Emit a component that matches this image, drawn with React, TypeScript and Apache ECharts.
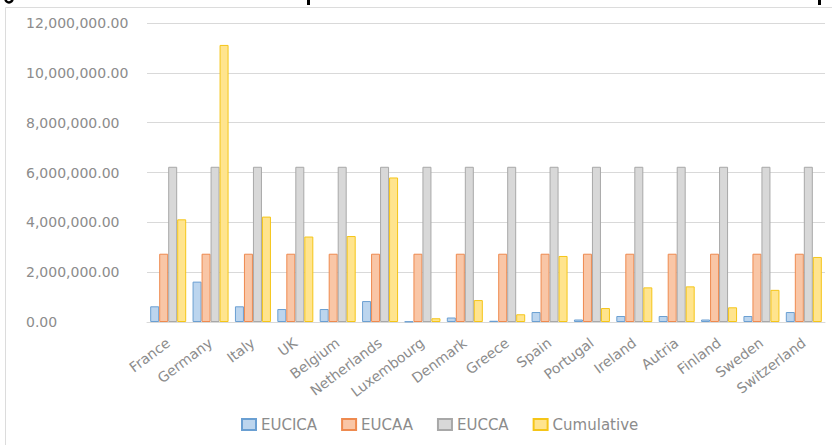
import React, { useEffect, useRef } from "react";
import * as echarts from "echarts";

const categories = [
  "France", "Germany", "Italy", "UK", "Belgium", "Netherlands", "Luxembourg", "Denmark",
  "Greece", "Spain", "Portugal", "Ireland", "Autria", "Finland", "Sweden", "Switzerland",
];
const eucica = [630000, 1620000, 630000, 520000, 520000, 840000, 20000, 180000, 50000, 400000, 100000, 240000, 240000, 100000, 240000, 400000];
const eucaa = [2740000, 2740000, 2740000, 2740000, 2740000, 2740000, 2740000, 2740000, 2740000, 2740000, 2740000, 2740000, 2740000, 2740000, 2740000, 2740000];
const eucca = [6230000, 6230000, 6230000, 6230000, 6230000, 6230000, 6230000, 6230000, 6230000, 6230000, 6230000, 6230000, 6230000, 6230000, 6230000, 6230000];
const cumulative = [4120000, 11120000, 4230000, 3430000, 3450000, 5800000, 150000, 880000, 310000, 2650000, 560000, 1390000, 1430000, 590000, 1290000, 2610000];
const seriesNames = ["EUCICA", "EUCAA", "EUCCA", "Cumulative"];
const yTicks = { min: 0, max: 12000000, interval: 2000000 };

const FONT = "DejaVu Sans";
const TXT = "#8c8c8c";

export default function App() {
  const ref = useRef<HTMLDivElement>(null);
  useEffect(() => {
    if (!ref.current) return;
    const chart = echarts.init(ref.current, null, { renderer: "svg" });
    const styles = [
      { fill: "#bcd5ee", border: "#6a9fd2" },
      { fill: "#f9c6a6", border: "#ee8a4f" },
      { fill: "#d8d8d8", border: "#a8a8a8" },
      { fill: "#ffe48e", border: "#f5c518" },
    ];
    const data = [eucica, eucaa, eucca, cumulative];
    chart.setOption({
      animation: false,
      backgroundColor: "#ffffff",
      graphic: [
        { type: "rect", shape: { x: 5.5, y: 7.5, width: 900, height: 600 }, style: { fill: "none", stroke: "#dcdcdc", lineWidth: 1 }, z: -10 },
        // cut-off descenders of a title above the picture
        { type: "arc", shape: { cx: 9, cy: -1, r: 3.5, startAngle: 0, endAngle: Math.PI }, style: { stroke: "#000", lineWidth: 2.5, fill: "none" } },
        { type: "rect", shape: { x: 307, y: 0, width: 3, height: 5 }, style: { fill: "#000" } },
        { type: "rect", shape: { x: 818, y: 0, width: 3, height: 5 }, style: { fill: "#000" } },
      ],
      grid: { left: 147, right: 7, top: 23, bottom: 123, containLabel: false },
      legend: {
        bottom: 8,
        left: 236,
        itemWidth: 14,
        itemHeight: 11,
        itemGap: 24,
        icon: "rect",
        textStyle: { color: TXT, fontFamily: FONT, fontSize: 15, padding: [0, 0, 0, 0] },
        data: seriesNames,
      },
      xAxis: {
        type: "category",
        data: categories,
        axisLine: { show: true, lineStyle: { color: "#d9d9d9" } },
        axisTick: { show: false },
        axisLabel: { rotate: 37, color: TXT, fontFamily: FONT, fontSize: 14, margin: 19, interval: 0 },
      },
      yAxis: {
        type: "value",
        min: yTicks.min,
        max: yTicks.max,
        interval: yTicks.interval,
        axisLine: { show: false },
        axisTick: { show: false },
        splitLine: { lineStyle: { color: "#d9d9d9", width: 1 } },
        axisLabel: {
          color: TXT,
          fontFamily: FONT,
          fontSize: 14,
          align: "left",
          margin: 121,
          formatter: (v: number) => v.toLocaleString("en-US", { minimumFractionDigits: 2, maximumFractionDigits: 2 }),
        },
      },
      series: seriesNames.map((name, i) => ({
        name,
        type: "bar",
        data: data[i],
        barWidth: 9,
        barGap: "0%",
        itemStyle: { color: styles[i].fill, borderColor: styles[i].border, borderWidth: 1 },
      })),
    });
    return () => chart.dispose();
  }, []);
  return <div ref={ref} style={{ position: "fixed", left: 0, top: 0, width: 832, height: 445 }} />;
}
